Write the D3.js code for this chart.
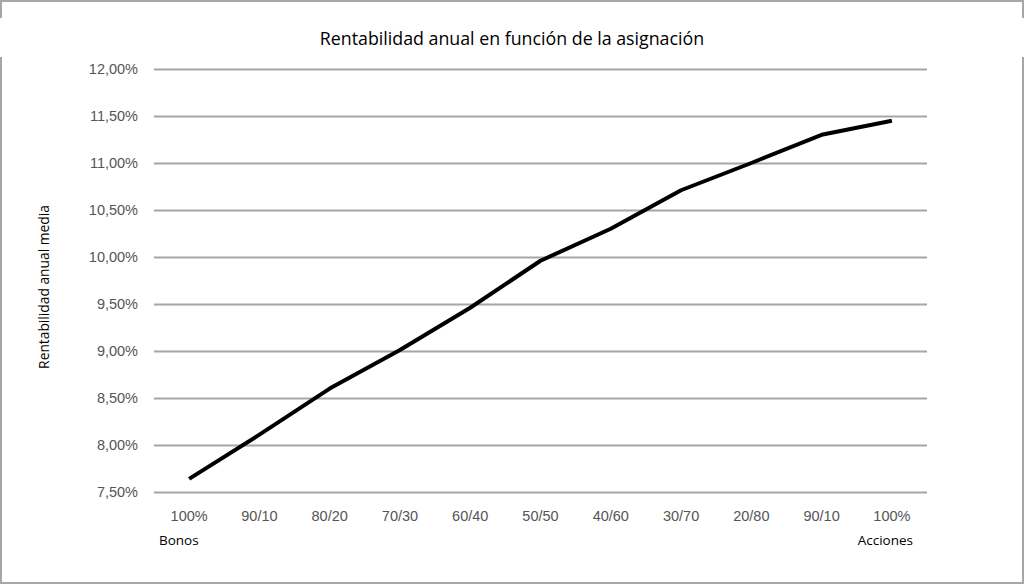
<!DOCTYPE html>
<html>
<head>
<meta charset="utf-8">
<script src="https://cdn.jsdelivr.net/npm/d3@7"></script>
<style>
  html, body { margin: 0; padding: 0; background: #fff; }
  svg { display: block; font-family: "Open Sans", "Noto Sans", sans-serif; }
</style>
</head>
<body>
<svg id="chart" width="1024" height="585"></svg>
<script>
// asignación bonos/acciones
var categories = ["100%", "90/10", "80/20", "70/30", "60/40", "50/50", "40/60", "30/70", "20/80", "90/10", "100%"];
// rentabilidad anual media (%)
var returns = [7.64, 8.11, 8.6, 9.01, 9.46, 9.96, 10.3, 10.71, 11.0, 11.3, 11.45];
var yTicks = [7.5, 8.0, 8.5, 9.0, 9.5, 10.0, 10.5, 11.0, 11.5, 12.0];

var W = 1024, H = 585;
var margin = {left: 154, right: 97, top: 69, bottom: 93};

var svg = d3.select("#chart");

// frame
svg.append("rect")
	.attr("x", 1).attr("y", 1)
	.attr("width", W - 2).attr("height", H - 3)
	.attr("fill", "#fff")
	.attr("stroke", "#a6a6a6")
	.attr("stroke-width", 2);
svg.append("rect")
	.attr("x", 0).attr("y", 18)
	.attr("width", W).attr("height", 39)
	.attr("fill", "#fff");

var x = d3.scaleBand()
	.domain(d3.range(categories.length))
	.range([margin.left, W - margin.right])
	.padding(0);

var y = d3.scaleLinear()
	.domain([7.5, 12])
	.range([H - margin.bottom, margin.top]);

var fmt = function(v) { return d3.format(".2f")(v).replace(".", ",") + "%"; };

// grid + y labels
var yAxis = d3.axisLeft(y)
	.tickValues(yTicks)
	.tickSize(-(W - margin.right - margin.left))
	.tickPadding(16)
	.tickFormat(fmt);

var gy = svg.append("g")
	.attr("transform", "translate(" + margin.left + ",0)")
	.call(yAxis);
gy.select(".domain").remove();
gy.selectAll(".tick line")
	.attr("stroke", "#a6a6a6")
	.attr("stroke-width", 2);
gy.selectAll(".tick text")
	.attr("fill", "#555")
	.attr("font-size", 14.5);

// x labels
var xAxis = d3.axisBottom(x)
	.tickSize(0)
	.tickPadding(19)
	.tickFormat(function(i) { return categories[i]; });

var gx = svg.append("g")
	.attr("transform", "translate(0," + (H - margin.bottom) + ")")
	.call(xAxis);
gx.select(".domain").remove();
gx.selectAll(".tick text")
	.attr("fill", "#555")
	.attr("font-size", 14.5);

// line
var line = d3.line()
	.x(function(d, i) { return x(i) + x.bandwidth() / 2; })
	.y(function(d) { return y(d); });

svg.append("path")
	.datum(returns)
	.attr("d", line)
	.attr("fill", "none")
	.attr("stroke", "#000")
	.attr("stroke-width", 4)
	.attr("stroke-linejoin", "round");

// titles
svg.append("text")
	.attr("x", 512).attr("y", 45)
	.attr("text-anchor", "middle")
	.attr("font-size", 17.8)
	.attr("fill", "#000")
	.text("Rentabilidad anual en función de la asignación");

svg.append("text")
	.attr("transform", "translate(49,287) rotate(-90)")
	.attr("text-anchor", "middle")
	.attr("font-size", 13.8)
	.attr("fill", "#000")
	.text("Rentabilidad anual media");

svg.append("text")
	.attr("x", 159).attr("y", 545)
	.attr("font-size", 13.5)
	.attr("fill", "#000")
	.text("Bonos");

svg.append("text")
	.attr("x", 913).attr("y", 545)
	.attr("text-anchor", "end")
	.attr("font-size", 13.5)
	.attr("fill", "#000")
	.text("Acciones");
</script>
</body>
</html>
